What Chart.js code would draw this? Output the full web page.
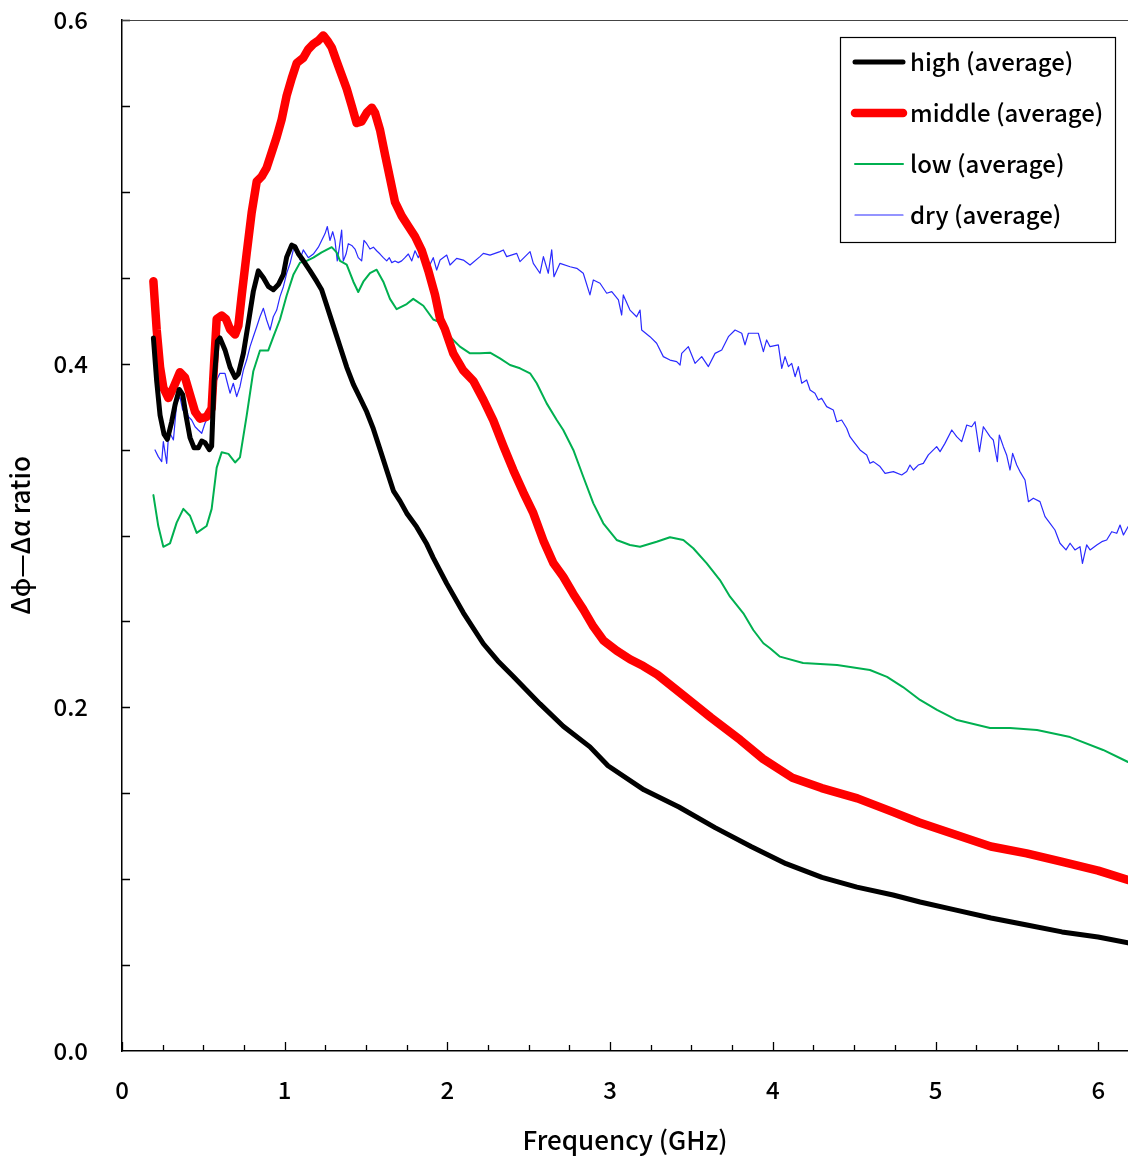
<!DOCTYPE html>
<html>
<head>
<meta charset="utf-8">
<script src="https://cdn.jsdelivr.net/npm/chart.js@4/dist/chart.umd.min.js"></script>
<style>
  html, body { margin: 0; padding: 0; background: #fff; }
  #wrap { width: 1128px; height: 1162px; }
</style>
</head>
<body>
<div id="wrap"><canvas id="myChart"></canvas></div>
<script>
// values (GHz, ratio)
const highFreq = [0.193,0.213,0.234,0.258,0.279,0.305,0.326,0.352,0.373,0.393,0.418,0.443,0.469,0.49,0.51,0.537,0.551,0.566,0.586,0.602,0.633,0.664,0.695,0.715,0.746,0.777,0.807,0.838,0.869,0.899,0.93,0.961,0.992,1.012,1.043,1.063,1.084,1.114,1.156,1.196,1.227,1.258,1.299,1.34,1.381,1.422,1.463,1.504,1.545,1.586,1.627,1.668,1.709,1.75,1.811,1.873,1.913,1.996,2.098,2.221,2.31,2.405,2.569,2.712,2.876,2.987,3.208,3.423,3.645,3.866,4.081,4.302,4.517,4.739,4.905,5.12,5.341,5.562,5.777,5.999,6.183];
const highVals = [0.415,0.390,0.370,0.359,0.356,0.366,0.376,0.385,0.382,0.370,0.357,0.351,0.351,0.355,0.354,0.350,0.352,0.390,0.413,0.415,0.408,0.398,0.392,0.394,0.406,0.424,0.442,0.454,0.450,0.445,0.443,0.446,0.452,0.462,0.469,0.468,0.464,0.460,0.454,0.448,0.443,0.434,0.422,0.410,0.398,0.388,0.380,0.372,0.362,0.350,0.338,0.326,0.320,0.313,0.305,0.295,0.287,0.272,0.255,0.237,0.227,0.218,0.202,0.189,0.177,0.166,0.152,0.142,0.130,0.119,0.109,0.101,0.0954,0.0908,0.0867,0.0821,0.0774,0.0733,0.0693,0.0663,0.0629];

const middleFreq = [0.193,0.213,0.234,0.254,0.285,0.316,0.356,0.387,0.418,0.449,0.479,0.52,0.551,0.566,0.582,0.613,0.639,0.664,0.695,0.715,0.736,0.766,0.797,0.828,0.859,0.889,0.92,0.951,0.981,1.012,1.043,1.074,1.114,1.145,1.176,1.207,1.237,1.262,1.289,1.319,1.35,1.381,1.412,1.442,1.473,1.504,1.535,1.555,1.586,1.616,1.647,1.678,1.719,1.76,1.801,1.842,1.883,1.924,1.955,1.985,2.036,2.098,2.159,2.221,2.282,2.344,2.405,2.467,2.528,2.59,2.651,2.712,2.774,2.835,2.897,2.958,3.04,3.122,3.204,3.29,3.45,3.62,3.80,3.94,4.12,4.30,4.52,4.74,4.90,5.12,5.34,5.56,5.78,6.0,6.183];
const middleVals = [0.448,0.420,0.398,0.386,0.380,0.386,0.395,0.392,0.382,0.372,0.368,0.369,0.374,0.400,0.426,0.428,0.426,0.420,0.417,0.422,0.440,0.464,0.488,0.506,0.509,0.514,0.523,0.532,0.542,0.556,0.566,0.575,0.578,0.583,0.586,0.588,0.591,0.588,0.584,0.576,0.568,0.560,0.550,0.540,0.541,0.546,0.549,0.546,0.536,0.522,0.508,0.494,0.486,0.480,0.474,0.466,0.454,0.440,0.426,0.420,0.406,0.396,0.390,0.379,0.367,0.352,0.338,0.325,0.313,0.297,0.284,0.276,0.266,0.257,0.247,0.239,0.233,0.228,0.224,0.219,0.207,0.194,0.181,0.170,0.159,0.153,0.147,0.139,0.133,0.126,0.119,0.115,0.110,0.105,0.0995];

const lowFreq = [0.193,0.223,0.254,0.295,0.336,0.377,0.418,0.459,0.52,0.551,0.582,0.613,0.654,0.695,0.725,0.766,0.807,0.848,0.899,0.93,0.971,1.012,1.053,1.094,1.135,1.176,1.227,1.289,1.319,1.34,1.381,1.422,1.452,1.483,1.524,1.565,1.606,1.647,1.688,1.75,1.79,1.852,1.913,1.955,2.016,2.077,2.139,2.2,2.262,2.323,2.385,2.446,2.508,2.549,2.61,2.672,2.712,2.774,2.835,2.897,2.958,3.04,3.122,3.184,3.286,3.368,3.45,3.511,3.594,3.675,3.737,3.819,3.88,3.942,3.983,4.044,4.186,4.395,4.597,4.702,4.8,4.905,5.009,5.132,5.335,5.458,5.624,5.827,6.03,6.183];
const lowVals = [0.3235,0.3055,0.2934,0.2954,0.3075,0.3155,0.3115,0.3015,0.3055,0.3155,0.3395,0.3485,0.3475,0.3425,0.3455,0.3696,0.3956,0.4077,0.4077,0.4156,0.4257,0.4397,0.4517,0.4588,0.4598,0.4617,0.4648,0.4678,0.4648,0.4598,0.4577,0.4477,0.4417,0.4477,0.4527,0.4547,0.4477,0.4377,0.4317,0.4347,0.4377,0.4337,0.4257,0.4240,0.4157,0.4099,0.406,0.406,0.4064,0.4031,0.3992,0.3973,0.3944,0.3886,0.3769,0.3672,0.3614,0.3498,0.3342,0.3187,0.3071,0.2974,0.2945,0.2935,0.2964,0.299,0.2974,0.2926,0.2838,0.2741,0.2644,0.2547,0.245,0.2373,0.2344,0.2295,0.2258,0.2246,0.2217,0.2177,0.2118,0.2043,0.1985,0.1926,0.188,0.188,0.1868,0.1827,0.1752,0.1682];

const dryFreq = [0.203,0.223,0.244,0.254,0.275,0.285,0.295,0.316,0.336,0.356,0.373,0.387,0.408,0.428,0.449,0.469,0.49,0.51,0.531,0.551,0.582,0.602,0.633,0.643,0.664,0.684,0.705,0.725,0.746,0.766,0.787,0.807,0.828,0.848,0.869,0.889,0.91,0.93,0.951,0.971,0.992,1.012,1.033,1.053,1.074,1.094,1.114,1.145,1.176,1.207,1.227,1.248,1.262,1.278,1.295,1.309,1.323,1.336,1.35,1.36,1.377,1.391,1.412,1.432,1.452,1.473,1.487,1.504,1.524,1.545,1.565,1.586,1.606,1.627,1.643,1.658,1.678,1.698,1.719,1.739,1.76,1.781,1.801,1.821,1.836,1.852,1.873,1.893,1.913,1.934,1.955,1.996,2.016,2.057,2.098,2.139,2.2,2.221,2.262,2.323,2.344,2.364,2.426,2.446,2.508,2.528,2.569,2.59,2.62,2.641,2.655,2.692,2.754,2.795,2.835,2.876,2.897,2.938,2.979,3.01,3.051,3.071,3.081,3.122,3.163,3.184,3.194,3.245,3.286,3.327,3.368,3.409,3.43,3.44,3.481,3.522,3.563,3.604,3.645,3.686,3.727,3.768,3.809,3.829,3.85,3.911,3.942,3.962,3.983,4.034,4.055,4.075,4.096,4.116,4.137,4.157,4.178,4.208,4.229,4.259,4.28,4.3,4.331,4.372,4.393,4.423,4.454,4.474,4.505,4.536,4.577,4.597,4.618,4.659,4.69,4.741,4.792,4.823,4.843,4.864,4.894,4.925,4.956,5.007,5.028,5.058,5.1,5.13,5.161,5.192,5.222,5.243,5.27,5.294,5.335,5.355,5.38,5.392,5.417,5.437,5.458,5.474,5.499,5.519,5.55,5.571,5.601,5.642,5.673,5.704,5.734,5.765,5.802,5.827,5.857,5.888,5.903,5.929,5.95,5.991,6.022,6.052,6.083,6.114,6.134,6.155,6.183];
const dryVals = [0.3498,0.3459,0.3430,0.3546,0.3420,0.3575,0.3595,0.3556,0.3769,0.3808,0.3730,0.3769,0.3692,0.3672,0.3633,0.3614,0.3595,0.3653,0.3692,0.3808,0.3905,0.3944,0.3944,0.3905,0.3828,0.3886,0.3808,0.3866,0.3963,0.4021,0.4099,0.4157,0.4215,0.4273,0.4322,0.4254,0.4196,0.4273,0.4312,0.4390,0.4448,0.4526,0.4584,0.4662,0.4681,0.4604,0.4662,0.4617,0.4638,0.4678,0.4717,0.4757,0.4798,0.4717,0.4768,0.4717,0.4598,0.4678,0.4778,0.4598,0.4638,0.4698,0.4688,0.4667,0.4617,0.4598,0.4717,0.4698,0.4667,0.4678,0.4657,0.4638,0.4617,0.4598,0.4617,0.4588,0.4598,0.4588,0.4598,0.4617,0.4638,0.4598,0.4657,0.4617,0.4648,0.4617,0.4598,0.4577,0.4617,0.4545,0.4603,0.4632,0.4574,0.4613,0.4603,0.4574,0.4623,0.4642,0.4632,0.4652,0.4662,0.4623,0.4642,0.4594,0.4652,0.4584,0.4526,0.4623,0.4526,0.4662,0.4506,0.4584,0.4564,0.4555,0.4526,0.4400,0.4487,0.4468,0.4410,0.4419,0.4371,0.4283,0.4400,0.4312,0.4273,0.4312,0.4196,0.4157,0.4119,0.4041,0.4021,0.4012,0.3992,0.4060,0.4099,0.4002,0.4041,0.3983,0.4060,0.4080,0.4157,0.4196,0.4177,0.4109,0.4177,0.4177,0.4070,0.4138,0.4099,0.4109,0.3973,0.4041,0.3983,0.4002,0.3924,0.3983,0.3886,0.3905,0.3847,0.3828,0.3789,0.3799,0.3750,0.3730,0.3662,0.3672,0.3624,0.3575,0.3536,0.3498,0.3469,0.3420,0.3430,0.3401,0.3362,0.3372,0.3352,0.3372,0.3410,0.3381,0.3410,0.3420,0.3469,0.3517,0.3488,0.3536,0.3614,0.3575,0.3546,0.3643,0.3633,0.3662,0.3488,0.3633,0.3575,0.3556,0.3430,0.3585,0.3517,0.3469,0.3381,0.3478,0.3410,0.3372,0.3323,0.3197,0.3217,0.3197,0.3110,0.3071,0.3032,0.2955,0.2916,0.2955,0.2916,0.2935,0.2838,0.2945,0.2916,0.2945,0.2964,0.2974,0.3022,0.3013,0.3061,0.3003,0.3051];

const seriesNames = ['high (average)', 'middle (average)', 'low (average)', 'dry (average)'];
const xTickLabels = [0, 1, 2, 3, 4, 5, 6];
const yTickLabels = [0.0, 0.2, 0.4, 0.6];

function pts(fs, vs) { return fs.map((f, i) => ({x: f, y: vs[i]})); }

const FONT = '"Noto Sans CJK JP", "Noto Sans", sans-serif';
Chart.defaults.font.family = FONT;
Chart.defaults.font.weight = '500';
Chart.defaults.color = '#000';

// inward tick marks, top frame line and boxed legend
const frame = {
    id: 'frame',
    beforeDatasetsDraw(chart) {
        const {ctx, chartArea: a, scales: {x, y}} = chart;
        ctx.save();
        ctx.strokeStyle = '#000';
        ctx.lineWidth = 1.3;
        ctx.beginPath();
        for (let v = 0; v <= 6.001; v += 0.25) {
            const px = Math.round(x.getPixelForValue(v)) + 0.5;
            const len = Math.abs(v - Math.round(v)) < 1e-6 ? 9 : 6;
            ctx.moveTo(px, a.bottom);
            ctx.lineTo(px, a.bottom - len);
        }
        for (let v = 0.05; v <= 0.6001; v += 0.05) {
            const py = Math.round(y.getPixelForValue(v)) + 0.5;
            ctx.moveTo(a.left, py);
            ctx.lineTo(a.left + 8, py);
        }
        ctx.stroke();
        ctx.lineWidth = 1;
        ctx.strokeStyle = '#444';
        ctx.beginPath();
        ctx.moveTo(a.left, a.top + 0.5);
        ctx.lineTo(a.right, a.top + 0.5);
        ctx.stroke();
        ctx.restore();
    },
    afterDatasetsDraw(chart) {
        const ctx = chart.ctx;
        ctx.save();
        ctx.fillStyle = '#fff';
        ctx.fillRect(840.5, 37.5, 275, 205);
        ctx.strokeStyle = '#000';
        ctx.lineWidth = 1.2;
        ctx.strokeRect(840.5, 37.5, 275, 205);
        ctx.font = '500 24px ' + FONT;
        ctx.textBaseline = 'middle';
        ctx.lineCap = 'round';
        chart.data.datasets.forEach((ds, i) => {
            const yy = 62 + i * 51;
            ctx.strokeStyle = ds.borderColor;
            ctx.lineWidth = ds.borderWidth;
            ctx.beginPath();
            ctx.moveTo(855, yy);
            ctx.lineTo(903, yy);
            ctx.stroke();
            ctx.fillStyle = '#000';
            ctx.fillText(ds.label, 910, yy);
        });
        ctx.restore();
    }
};

new Chart(document.getElementById('myChart'), {
    type: 'line',
    data: {
        datasets: [
            {label: seriesNames[0], data: pts(highFreq, highVals), borderColor: '#000000', borderWidth: 5},
            {label: seriesNames[1], data: pts(middleFreq, middleVals), borderColor: '#ff0000', borderWidth: 8.5},
            {label: seriesNames[2], data: pts(lowFreq, lowVals), borderColor: '#00b050', borderWidth: 2},
            {label: seriesNames[3], data: pts(dryFreq, dryVals), borderColor: '#2a2aff', borderWidth: 1.2}
        ].map(d => Object.assign(d, {pointRadius: 0, tension: 0, borderCapStyle: 'round', borderJoinStyle: 'round', fill: false}))
    },
    options: {
        responsive: true,
        maintainAspectRatio: false,
        animation: false,
        layout: {padding: {top: 20, right: 0, left: 0, bottom: 0}},
        plugins: {legend: {display: false}, tooltip: {enabled: false}},
        scales: {
            x: {
                type: 'linear', min: 0, max: 6.183,
                afterFit: s => { s.height = 111; s.paddingLeft = 0; s.paddingRight = 0; },
                grid: {display: false},
                border: {display: true, color: '#000', width: 1.5},
                ticks: {
                    stepSize: 1, includeBounds: false, padding: 16,
                    font: {size: 24},
                    callback: v => xTickLabels.includes(v) ? String(v) : ''
                },
                title: {display: true, text: 'Frequency (GHz)', font: {size: 26}, padding: {top: 0, bottom: 6}}
            },
            y: {
                min: 0, max: 0.6,
                afterFit: s => { s.width = 122; s.paddingTop = 0; s.paddingBottom = 0; },
                grid: {display: false},
                border: {display: true, color: '#000', width: 1.5},
                ticks: {
                    stepSize: 0.2, padding: 26,
                    font: {size: 24},
                    callback: v => yTickLabels.some(t => Math.abs(t - v) < 1e-6) ? v.toFixed(1) : ''
                },
                title: {display: true, text: 'Δϕ—Δα ratio', font: {size: 26}, padding: {top: 5, bottom: 0}}
            }
        }
    },
    plugins: [frame]
});
</script>
</body>
</html>
